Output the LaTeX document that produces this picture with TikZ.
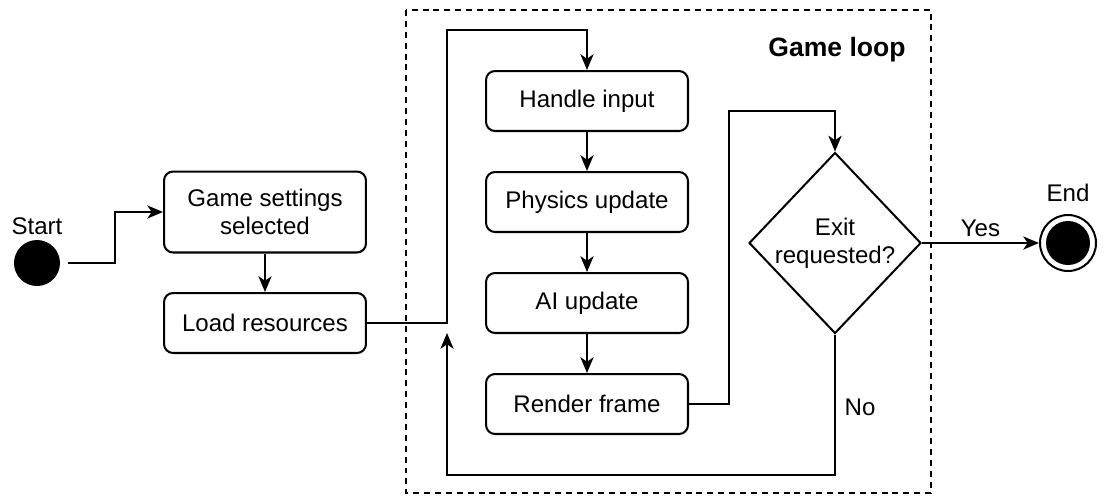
\documentclass[tikz,border=0pt]{standalone}
\usepackage{fontspec}
\setmainfont{Liberation Sans}
\usetikzlibrary{shapes.geometric,arrows.meta,calc}
\begin{document}
\begin{tikzpicture}[x=0.02cm,y=-0.02cm,
  line width=1.15pt,
  every node/.style={font=\fontsize{13.7}{16}\selectfont},
  stepbox/.style={draw,rounded corners=0.18cm,minimum width=4.04cm,minimum height=1.2cm,align=center,inner sep=0},
  arr/.style={-{Stealth[length=9pt,width=7.5pt,inset=2.6pt]}},
  lbl/.style={inner sep=0}
]
\useasboundingbox (0,0) rectangle (1104,495);
% loop frame
\draw[dash pattern=on 3.4pt off 2.8pt] (406,10) rectangle (931,493);
\node[font=\fontsize{15.1}{17}\bfseries\selectfont,lbl] (title) at (837,50) {Game loop};
% nodes
\node[circle,fill=black,minimum size=0.92cm,inner sep=0] (start) at (37,263) {};
\node[lbl] (startlbl) at (37,226) {Start};
\node[stepbox,minimum height=1.62cm] (settings) at (265,212) {Game settings\\selected};
\node[stepbox] (load) at (265,323) {Load resources};
\node[stepbox] (handle) at (587,101) {Handle input};
\node[stepbox] (phys) at (587,202) {Physics update};
\node[stepbox] (ai) at (587,303) {AI update};
\node[stepbox] (render) at (587,404) {Render frame};
\node[diamond,draw,minimum width=3.44cm,minimum height=3.62cm,inner sep=0,align=center] (dec) at (835,243) {Exit\\requested?};
\node[circle,draw,fill=white,minimum size=1.12cm,inner sep=0,
  path picture={\fill[black] (path picture bounding box.center) circle (0.44cm);}] (end) at (1068,243) {};
\node[lbl] (endlbl) at (1068,193) {End};
% connectors
\draw[arr] (start.east) ++(7,0) -- (115,263) |- (settings.west);
\draw[arr] (settings) -- (load);
\draw[arr] (load.east) -| (447,30) -| (handle.north);
\draw[arr] (handle) -- (phys);
\draw[arr] (phys) -- (ai);
\draw[arr] (ai) -- (render);
\draw[arr] (render.east) -| (729,111) -| (dec.north);
\draw[arr] (dec.east) -- node[above=3pt,lbl] (yes) {Yes} (end.west);
\draw[arr] (dec.south) |- (447,475) -- (447,333);
\node[lbl] (no) at (860,407) {No};
\end{tikzpicture}
\end{document}
